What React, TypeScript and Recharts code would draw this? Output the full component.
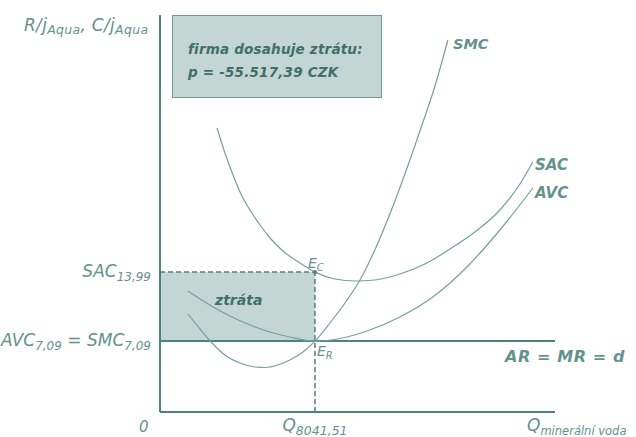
import React from "react"
import {
  ComposedChart,
  Line,
  XAxis,
  YAxis,
  ReferenceLine,
  ReferenceArea,
  ReferenceDot,
} from "recharts"

// quantity of mineral water (x) and price/cost per unit (y)
const Q_EQ = 8041.51
const PRICE = 7.09
const SAC_EQ = 13.99
const Q_MAX = 20500
const P_MAX = 40

const smcQ = [1450, 2080, 2700, 3370, 4150, 4930, 5450, 6120, 6740, 7420, Q_EQ, 8820, 9600, 10380, 11150, 11930, 12710, 13490, 14270, 14940]
const smcP = [9.8, 8.3, 6.9, 5.7, 4.9, 4.5, 4.45, 4.7, 5.2, 6.0, 7.09, 8.9, 10.9, 13.2, 16.2, 19.8, 23.8, 28.1, 32.6, 37.2]

const avcQ = [1450, 2080, 2850, 3630, 4670, 5710, 6740, Q_EQ, 9340, 10740, 12450, 14160, 15930, 17640, 19350]
const avcP = [12.1, 11.3, 10.4, 9.6, 8.7, 8.0, 7.5, 7.09, 7.35, 8.1, 9.5, 11.5, 14.5, 18.2, 22.4]

const sacQ = [2960, 3370, 3790, 4200, 4670, 5190, 5710, 6380, 7260, Q_EQ, 9080, 10120, 11150, 12450, 13750, 15050, 16340, 17640, 18680, 19350]
const sacP = [28.4, 25.9, 23.7, 21.8, 20.2, 18.7, 17.4, 16.1, 14.9, 13.99, 13.3, 13.1, 13.2, 13.8, 14.8, 16.3, 18.0, 20.2, 22.8, 25.0]

const toRows = (qs: number[], ps: number[]) => qs.map((q, i) => ({ q, p: ps[i] }))

const smcData = toRows(smcQ, smcP)
const avcData = toRows(avcQ, avcP)
const sacData = toRows(sacQ, sacP)

const AXIS = "#4d817b"
const CURVE = "#72a29c"
const TEXT = "#64928c"
const DARK = "#3f6f69"
const FILL = "#c4d6d3"

const W = 636
const H = 437

export default function App() {
  const font = "'DejaVu Sans', Verdana, sans-serif"
  return (
    <div style={{ position: "absolute", left: 0, top: 0, width: W, height: H, background: "#fff" }}>
      <ComposedChart
        width={W}
        height={H}
        margin={{ top: 12, right: 81, bottom: 25, left: 160 }}
      >
        <XAxis
          type="number"
          dataKey="q"
          domain={[0, Q_MAX]}
          allowDataOverflow
          hide
        />
        <YAxis
          type="number"
          dataKey="p"
          domain={[0, P_MAX]}
          allowDataOverflow
          hide
        />
        <ReferenceArea
          x1={0}
          x2={Q_EQ}
          y1={PRICE}
          y2={SAC_EQ}
          fill={FILL}
          fillOpacity={1}
          stroke="none"
        />
        <ReferenceLine
          segment={[{ x: 0, y: SAC_EQ }, { x: Q_EQ, y: SAC_EQ }]}
          stroke={AXIS}
          strokeWidth={1.5}
          strokeDasharray="5 3"
        />
        <ReferenceLine
          segment={[{ x: Q_EQ, y: 0 }, { x: Q_EQ, y: SAC_EQ }]}
          stroke={AXIS}
          strokeWidth={1.5}
          strokeDasharray="5 3"
        />
        <ReferenceLine y={PRICE} stroke={AXIS} strokeWidth={2} />
        <ReferenceLine
          segment={[{ x: 0, y: 0 }, { x: Q_MAX, y: 0 }]}
          stroke={AXIS}
          strokeWidth={2}
        />
        <ReferenceLine
          segment={[{ x: 0, y: 0 }, { x: 0, y: 39.7 }]}
          stroke={AXIS}
          strokeWidth={2}
        />
        <Line
          data={smcData}
          dataKey="p"
          type="monotone"
          stroke={CURVE}
          strokeWidth={1.2}
          dot={false}
          isAnimationActive={false}
        />
        <Line
          data={sacData}
          dataKey="p"
          type="monotone"
          stroke={CURVE}
          strokeWidth={1.2}
          dot={false}
          isAnimationActive={false}
        />
        <Line
          data={avcData}
          dataKey="p"
          type="monotone"
          stroke={CURVE}
          strokeWidth={1.2}
          dot={false}
          isAnimationActive={false}
        />
        <ReferenceDot x={Q_EQ} y={SAC_EQ} r={2} fill={AXIS} stroke="none" />
      </ComposedChart>

      <div
        style={{
          position: "absolute",
          left: 172,
          top: 15,
          width: 210,
          height: 83,
          background: FILL,
          border: "1px solid #6e9994",
          boxSizing: "border-box",
          fontFamily: font,
          fontStyle: "italic",
          fontWeight: "bold",
          fontSize: 13.5,
          letterSpacing: 0.2,
          color: DARK,
          padding: "22px 0 0 15px",
          lineHeight: "23px",
        }}
      >
        <div>firma dosahuje ztrátu:</div>
        <div>p = -55.517,39 CZK</div>
      </div>

      <svg
        width={W}
        height={H}
        style={{ position: "absolute", left: 0, top: 0, pointerEvents: "none" }}
        fontFamily={font}
        fontStyle="italic"
      >
        <text x={24} y={31} fontSize={17} fill={TEXT} letterSpacing={0.3}>
          R/j<tspan fontSize={12.5} dy={3}>Aqua</tspan>
          <tspan dy={-3}>, C/j</tspan>
          <tspan fontSize={12.5} dy={3}>Aqua</tspan>
        </text>
        <text x={151} y={277} fontSize={17} fill={TEXT} textAnchor="end">
          SAC<tspan fontSize={12} dy={4}>13,99</tspan>
        </text>
        <text x={151} y={346} fontSize={17} fill={TEXT} textAnchor="end">
          AVC<tspan fontSize={12} dy={4}>7,09</tspan>
          <tspan dy={-4}> = SMC</tspan>
          <tspan fontSize={12} dy={4}>7,09</tspan>
        </text>
        <text x={139} y={432} fontSize={15} fill={TEXT}>0</text>
        <text x={315} y={431} fontSize={17} fill={TEXT} textAnchor="middle">
          Q<tspan fontSize={12.5} dy={4}>8041,51</tspan>
        </text>
        <text x={527} y={431} fontSize={17} fill={TEXT}>
          Q<tspan fontSize={11.5} dy={4}>minerální voda</tspan>
        </text>
        <text x={453} y={49} fontSize={14.5} fontWeight="bold" fill={TEXT}>SMC</text>
        <text x={535} y={170} fontSize={15} fontWeight="bold" fill={TEXT}>SAC</text>
        <text x={535} y={198} fontSize={15} fontWeight="bold" fill={TEXT}>AVC</text>
        <text x={505} y={362} fontSize={16} fontWeight="bold" fill={TEXT} letterSpacing={0.6}>
          AR = MR = d
        </text>
        <text x={308} y={268} fontSize={14} fill={TEXT}>
          E<tspan fontSize={10} dy={3}>C</tspan>
        </text>
        <text x={317} y={356} fontSize={14} fill={TEXT}>
          E<tspan fontSize={10} dy={3}>R</tspan>
        </text>
        <text x={215} y={305} fontSize={14} fontWeight="bold" fill={DARK}>ztráta</text>
      </svg>
    </div>
  )
}
